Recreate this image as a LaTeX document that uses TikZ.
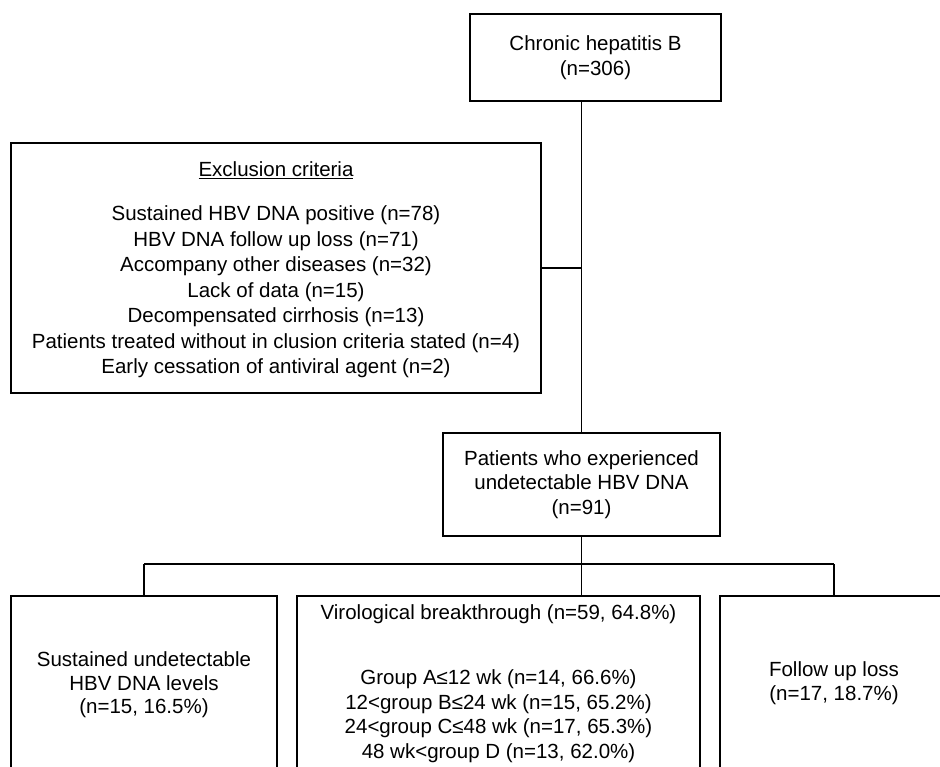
\documentclass[tikz,border=0pt]{standalone}
\usepackage{fontspec}
\setmainfont{Liberation Sans}
\begin{document}
\begin{tikzpicture}[x=1pt,y=-1pt,line width=1.1pt,
  box/.style={draw,rectangle,inner sep=0pt,outer sep=0pt,anchor=north west},
  txt/.style={align=center,inner sep=0pt,font=\fontsize{20.5}{25}\selectfont}]
\useasboundingbox (0,0) rectangle (940,767);
\clip (0,0) rectangle (940,767);
% boxes
\node[box,minimum width=251pt,minimum height=87pt] (top) at (470,14) {};
\node[box,minimum width=530pt,minimum height=250pt] (excl) at (11,143) {};
\node[box,minimum width=277pt,minimum height=103pt] (mid) at (443,433) {};
\node[box,minimum width=266pt,minimum height=210pt] (b1) at (11,596) {};
\node[box,minimum width=403pt,minimum height=210pt] (b2) at (297,596) {};
\node[box,minimum width=228pt,minimum height=210pt] (b3) at (720,596) {};
% texts
\node[txt] (ttop) at (top.center) {Chronic hepatitis B\\(n=306)};
\node[txt] (texclh) at (276,170) {\underline{Exclusion criteria}};
\node[txt,font=\fontsize{20.5}{25.5}\selectfont] (texcl) at (276,292) {Sustained HBV DNA positive (n=78)\\
HBV DNA follow up loss (n=71)\\
Accompany other diseases (n=32)\\
Lack of data (n=15)\\
Decompensated cirrhosis (n=13)\\
Patients treated without in clusion criteria stated (n=4)\\
Early cessation of antiviral agent (n=2)};
\node[txt,font=\fontsize{20.5}{24.5}\selectfont] (tmid) at (mid.center) {Patients who experienced\\undetectable HBV DNA\\(n=91)};
\node[txt,font=\fontsize{20.5}{23.5}\selectfont] (tb1) at (144,685) {Sustained undetectable\\HBV DNA levels\\(n=15, 16.5\%)};
\node[txt] (tb2h) at (498.5,614) {Virological breakthrough (n=59, 64.8\%)};
\node[txt,font=\fontsize{20.5}{24.5}\selectfont] (tb2) at (498.5,716) {Group A≤12 wk (n=14, 66.6\%)\\
12<group B≤24 wk (n=15, 65.2\%)\\
24<group C≤48 wk (n=17, 65.3\%)\\
48 wk<group D (n=13, 62.0\%)};
\node[txt,font=\fontsize{20.5}{24}\selectfont] (tb3) at (834,683) {Follow up loss\\(n=17, 18.7\%)};
% connectors
\coordinate (split) at (581,564);
\draw (mid.north |- top.south) -- (mid.north);
\draw (excl.east) -- (excl.east -| mid.north);
\draw (mid.south) -- (mid.south |- b2.north);
\draw (b1.north |- split) -- (b3.north |- split);
\draw (b1.north |- split) -- (b1.north);
\draw (b3.north |- split) -- (b3.north);
\end{tikzpicture}
\end{document}
